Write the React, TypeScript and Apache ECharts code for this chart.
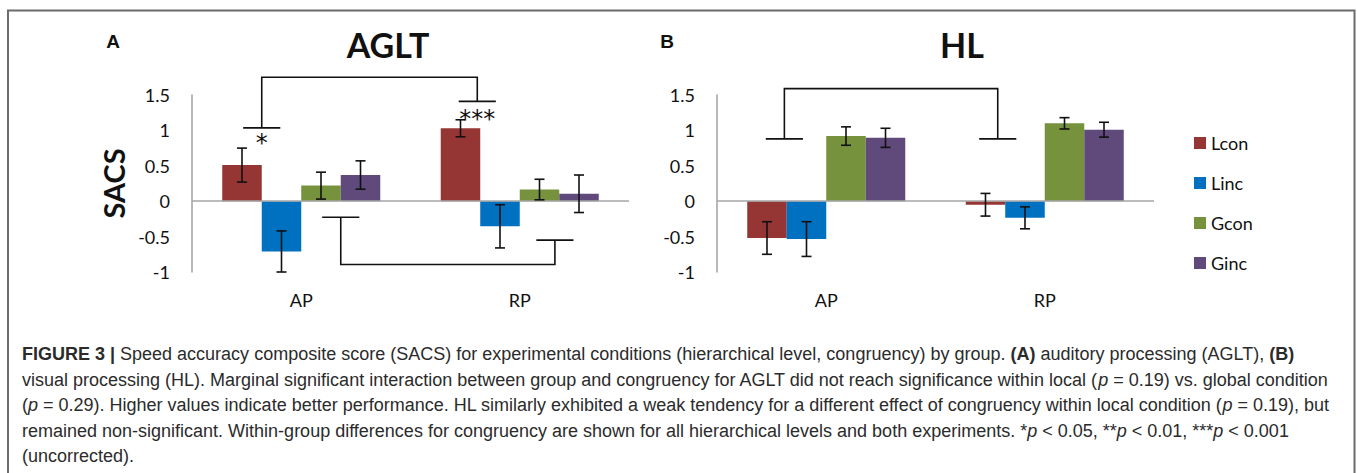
import React, { useEffect, useRef } from "react";
import * as echarts from "echarts";

// ---------- data ----------
const categories = ["AP", "RP"];
const seriesNames = ["Lcon", "Linc", "Gcon", "Ginc"];
const seriesColors = ["#963634", "#0070c0", "#76923c", "#5f4a7b"];
const yTicks = { min: -1, max: 1.5, interval: 0.5 };

// Panel A: AGLT (means, then half error bars)
const agltLcon = [0.51, 1.03];
const agltLinc = [-0.71, -0.355];
const agltGcon = [0.22, 0.165];
const agltGinc = [0.37, 0.105];
const agltLconErr = [0.24, 0.12];
const agltLincErr = [0.29, 0.305];
const agltGconErr = [0.19, 0.145];
const agltGincErr = [0.2, 0.265];

// Panel B: HL
const hlLcon = [-0.52, -0.05];
const hlLinc = [-0.535, -0.235];
const hlGcon = [0.92, 1.1];
const hlGinc = [0.895, 1.01];
const hlLconErr = [0.23, 0.16];
const hlLincErr = [0.245, 0.155];
const hlGconErr = [0.13, 0.08];
const hlGincErr = [0.135, 0.105];

// brackets: [cat1, offset1 (bar widths), yEnd1, cat2, offset2, yEnd2, yJoin]
const agltBrackets = [
  [0, -1, 1.035, 1, -1.075, 1.41, 1.75],
  [0, 1, -0.226, 1, 0.89, -0.55, -0.894],
];
const hlBrackets = [[0, -1.06, 0.88, 1, -1.19, 0.88, 1.59]];
// significance stars: [cat, offset, y]
const agltStarPos = [
  [0, -1, 0.82],
  [1, -1.075, 1.16],
];
const agltStarLabels = ["*", "***"];

const captionLines = [
  "{b|FIGURE 3 |} Speed accuracy composite score (SACS) for experimental conditions (hierarchical level, congruency) by group. {b|(A)} auditory processing (AGLT), {b|(B)}",
  "visual processing (HL). Marginal significant interaction between group and congruency for AGLT did not reach significance within local ({i|p} = 0.19) vs. global condition",
  "({i|p} = 0.29). Higher values indicate better performance. HL similarly exhibited a weak tendency for a different effect of congruency within local condition ({i|p} = 0.19), but",
  "remained non-significant. Within-group differences for congruency are shown for all hierarchical levels and both experiments. *{i|p} < 0.05, **{i|p} < 0.01, ***{i|p} < 0.001",
  "(uncorrected).",
];

// ---------- layout ----------
const BAR_FRAC = 0.1808;
const CHART_FONT = "Lato, 'Open Sans', sans-serif";
const CAPTION_FONT = "'Liberation Sans', Arial, sans-serif";
const CAPTION_SIZE = 18;

export default function App() {
  const ref = useRef<HTMLDivElement>(null);

  useEffect(() => {
    if (!ref.current) return;
    const chart = echarts.init(ref.current, null, { renderer: "svg" });

    const panels = [
      {
        means: [agltLcon, agltLinc, agltGcon, agltGinc],
        errs: [agltLconErr, agltLincErr, agltGconErr, agltGincErr],
        brackets: agltBrackets,
        stars: agltStarPos,
        starLabels: agltStarLabels,
      },
      {
        means: [hlLcon, hlLinc, hlGcon, hlGinc],
        errs: [hlLconErr, hlLincErr, hlGconErr, hlGincErr],
        brackets: hlBrackets,
        stars: [] as number[][],
        starLabels: [] as string[],
      },
    ];

    const series: any[] = [];
    panels.forEach((p, gi) => {
      p.means.forEach((vals, si) => {
        series.push({
          type: "bar",
          name: seriesNames[si],
          xAxisIndex: gi,
          yAxisIndex: gi,
          data: vals,
          barWidth: BAR_FRAC * 100 + "%",
          barGap: "0%",
          itemStyle: { color: seriesColors[si] },
          markLine:
            si === 0
              ? {
                  silent: true,
                  symbol: "none",
                  label: { show: false },
                  lineStyle: { color: "#a6a6a6", width: 1.5, type: "solid" },
                  data: [{ yAxis: 0 }],
                }
              : undefined,
        });
      });
      const errData: number[][] = [];
      p.means.forEach((vals, si) => {
        vals.forEach((m, ci) => {
          const e = p.errs[si][ci];
          errData.push([ci, si, m - e, m + e]);
        });
      });
      series.push({
        type: "custom",
        xAxisIndex: gi,
        yAxisIndex: gi,
        z: 5,
        encode: { x: 0, y: [2, 3] },
        data: errData,
        renderItem: (params: any, api: any) => {
          const band = api.size([1, 0])[0];
          const bw = band * BAR_FRAC;
          const ci = api.value(0);
          const si = api.value(1);
          const lo = api.coord([ci, api.value(2)]);
          const hi = api.coord([ci, api.value(3)]);
          const x = lo[0] + (si - 1.5) * bw;
          const cap = 5;
          const st = { stroke: "#111", lineWidth: 1.6 };
          return {
            type: "group",
            children: [
              { type: "line", shape: { x1: x, y1: lo[1], x2: x, y2: hi[1] }, style: st },
              { type: "line", shape: { x1: x - cap, y1: lo[1], x2: x + cap, y2: lo[1] }, style: st },
              { type: "line", shape: { x1: x - cap, y1: hi[1], x2: x + cap, y2: hi[1] }, style: st },
            ],
          };
        },
      });
      series.push({
        type: "custom",
        xAxisIndex: gi,
        yAxisIndex: gi,
        z: 5,
        encode: { x: 0, y: 2 },
        data: p.brackets,
        renderItem: (params: any, api: any) => {
          const band = api.size([1, 0])[0];
          const bw = band * BAR_FRAC;
          const p1 = api.coord([api.value(0), api.value(2)]);
          const p2 = api.coord([api.value(3), api.value(5)]);
          const x1 = p1[0] + api.value(1) * bw;
          const x2 = p2[0] + api.value(4) * bw;
          const ym = api.coord([api.value(0), api.value(6)])[1];
          const h = 0.47 * bw;
          const st = { stroke: "#111", lineWidth: 1.6, fill: "none" };
          return {
            type: "group",
            children: [
              {
                type: "polyline",
                shape: { points: [[x1, p1[1]], [x1, ym], [x2, ym], [x2, p2[1]]] },
                style: st,
              },
              { type: "line", shape: { x1: x1 - h, y1: p1[1], x2: x1 + h, y2: p1[1] }, style: st },
              { type: "line", shape: { x1: x2 - h, y1: p2[1], x2: x2 + h, y2: p2[1] }, style: st },
            ],
          };
        },
      });
      if (p.stars.length) {
        const labels = p.starLabels;
        series.push({
          type: "custom",
          xAxisIndex: gi,
          yAxisIndex: gi,
          z: 5,
          encode: { x: 0, y: 2 },
          data: p.stars,
          renderItem: (params: any, api: any) => {
            const band = api.size([1, 0])[0];
            const bw = band * BAR_FRAC;
            const pt = api.coord([api.value(0), api.value(2)]);
            return {
              type: "text",
              x: pt[0] + api.value(1) * bw,
              y: pt[1],
              style: {
                text: labels[params.dataIndex],
                fontFamily: "'DejaVu Sans', sans-serif",
                fontSize: 24,
                fill: "#111",
                align: "center",
                verticalAlign: "middle",
              },
            };
          },
        });
      }
    });

    const axisLabelStyle = {
      fontSize: 18,
      color: "#111",
      fontFamily: CHART_FONT,
    };

    const richCaption = {
      b: { fontWeight: "bold", fontFamily: CAPTION_FONT, fontSize: CAPTION_SIZE, fill: "#2b2b2b" },
      i: { fontStyle: "italic", fontFamily: CAPTION_FONT, fontSize: CAPTION_SIZE, fill: "#2b2b2b" },
    };

    const graphics: any[] = [
      {
        type: "polyline",
        shape: { points: [[8, 600], [8, 10.5], [1354.5, 10.5], [1354.5, 600]] },
        style: { stroke: "#6b6b6b", lineWidth: 2, fill: "none" },
        silent: true,
      },
      {
        type: "text",
        x: 113,
        y: 41,
        style: { text: "A", fontSize: 19, fontWeight: "bold", fontFamily: "'Liberation Sans', Arial, sans-serif", fill: "#111", align: "center", verticalAlign: "middle" },
      },
      {
        type: "text",
        x: 667,
        y: 41,
        style: { text: "B", fontSize: 19, fontWeight: "bold", fontFamily: "'Liberation Sans', Arial, sans-serif", fill: "#111", align: "center", verticalAlign: "middle" },
      },
      {
        type: "text",
        x: 388,
        y: 44,
        style: { text: "AGLT", fontSize: 34, fontWeight: "bold", fontFamily: CHART_FONT, fill: "#111", align: "center", verticalAlign: "middle" },
      },
      {
        type: "text",
        x: 962,
        y: 44,
        style: { text: "HL", fontSize: 34, fontWeight: "bold", fontFamily: CHART_FONT, fill: "#111", align: "center", verticalAlign: "middle" },
      },
    ];
    captionLines.forEach((line, i) => {
      graphics.push({
        type: "text",
        x: 22,
        y: 354 + i * 25.6,
        style: {
          text: line,
          rich: richCaption,
          fontSize: CAPTION_SIZE,
          fontFamily: CAPTION_FONT,
          fill: "#2b2b2b",
          align: "left",
          verticalAlign: "middle",
        },
      });
    });

    const makeX = (gi: number) => ({
      type: "category",
      gridIndex: gi,
      data: categories,
      axisLine: { show: false },
      axisTick: { show: false },
      axisLabel: { ...axisLabelStyle, margin: 19 },
    });
    const makeY = (gi: number) => ({
      type: "value",
      gridIndex: gi,
      min: yTicks.min,
      max: yTicks.max,
      interval: yTicks.interval,
      axisLine: { show: true, lineStyle: { color: "#a0a0a0", width: 1.5 } },
      axisTick: { show: false },
      splitLine: { show: false },
      axisLabel: { ...axisLabelStyle, margin: 22 },
      ...(gi === 0
        ? {
            name: "SACS",
            nameLocation: "middle",
            nameGap: 64,
            nameRotate: 90,
            nameTextStyle: { fontSize: 29, fontWeight: "bold", fontFamily: CHART_FONT, color: "#111" },
          }
        : {}),
    });

    chart.setOption({
      animation: false,
      backgroundColor: "#ffffff",
      grid: [
        { left: 192, top: 95, width: 437, height: 177 },
        { left: 717, top: 95, width: 437, height: 177 },
      ],
      xAxis: [makeX(0), makeX(1)],
      yAxis: [makeY(0), makeY(1)],
      legend: {
        orient: "vertical",
        left: 1189,
        top: 129,
        itemWidth: 12,
        itemHeight: 12,
        itemGap: 22,
        icon: "rect",
        data: seriesNames,
        textStyle: { fontSize: 18, fontFamily: CHART_FONT, color: "#111" },
      },
      graphic: graphics,
      series,
    });

    return () => chart.dispose();
  }, []);

  return (
    <div
      ref={ref}
      style={{ position: "absolute", left: 0, top: 0, width: 1357, height: 473, background: "#fff" }}
    />
  );
}
